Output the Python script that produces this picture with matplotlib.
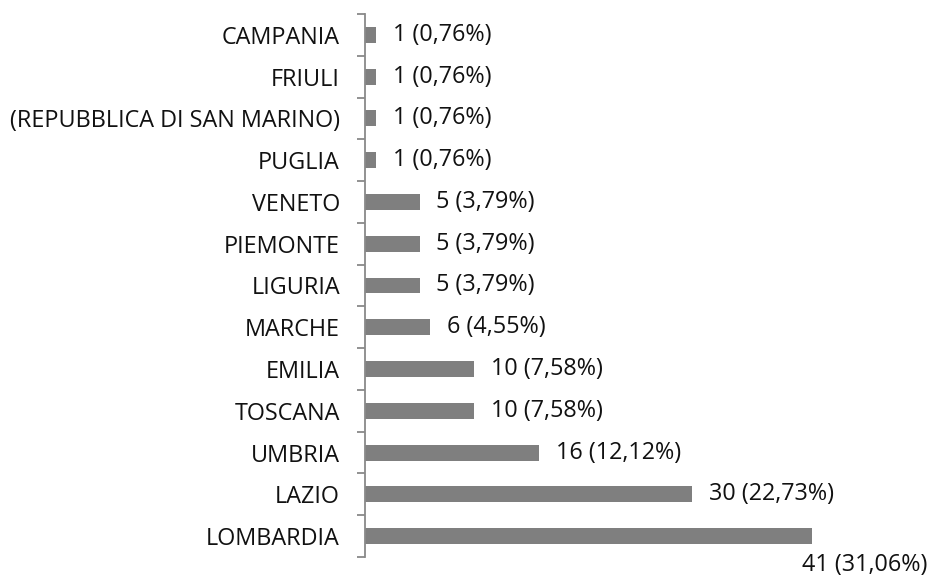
import matplotlib
matplotlib.use("Agg")
import matplotlib.pyplot as plt
import numpy as np

# dati (dal basso verso l'alto)
regioni = ["LOMBARDIA", "LAZIO", "UMBRIA", "TOSCANA", "EMILIA", "MARCHE",
           "LIGURIA", "PIEMONTE", "VENETO", "PUGLIA",
           "(REPUBBLICA DI SAN MARINO)", "FRIULI", "CAMPANIA"]
valori = [41, 30, 16, 10, 10, 6, 5, 5, 5, 1, 1, 1, 1]
totale = sum(valori)

plt.rcParams["font.family"] = ["Open Sans", "DejaVu Sans"]
fs = 16.8

fig = plt.figure(figsize=(9.32, 5.76), dpi=100)
ax = fig.add_axes([365/932, 1-557/576, 545/932, (557-14)/576])

y = np.arange(len(regioni))
ax.barh(y, valori, height=0.38, color="#7f7f7f")

for i, v in enumerate(valori):
    testo = f"{v} ({v/totale*100:.2f}%)".replace(".", ",")
    if i == 0:
        # etichetta della barra piu lunga spostata sotto
        ax.annotate(testo, xy=(v, i), xytext=(-10, -29), textcoords="offset pixels",
                    va="center", ha="left", fontsize=fs, color="#111111")
    else:
        ax.annotate(testo, xy=(v, i), xytext=(17, 0), textcoords="offset pixels",
                    va="center", ha="left", fontsize=fs, color="#111111")

ax.set_xlim(0, 50)
ax.set_ylim(-0.5, len(regioni) - 0.5)
ax.set_yticks(y)
ax.set_yticklabels(regioni, fontsize=fs, color="#111111")
ax.set_yticks(np.arange(-0.5, len(regioni)), minor=True)
ax.tick_params(axis="y", which="major", length=0, pad=18)
ax.tick_params(axis="y", which="minor", length=6, width=1.3, color="#898989", direction="out")
ax.set_xticks([])
for s in ["top", "right", "bottom"]:
    ax.spines[s].set_visible(False)
ax.spines["left"].set_color("#898989")
ax.spines["left"].set_linewidth(1.3)

fig.savefig("out.png", dpi=100)
